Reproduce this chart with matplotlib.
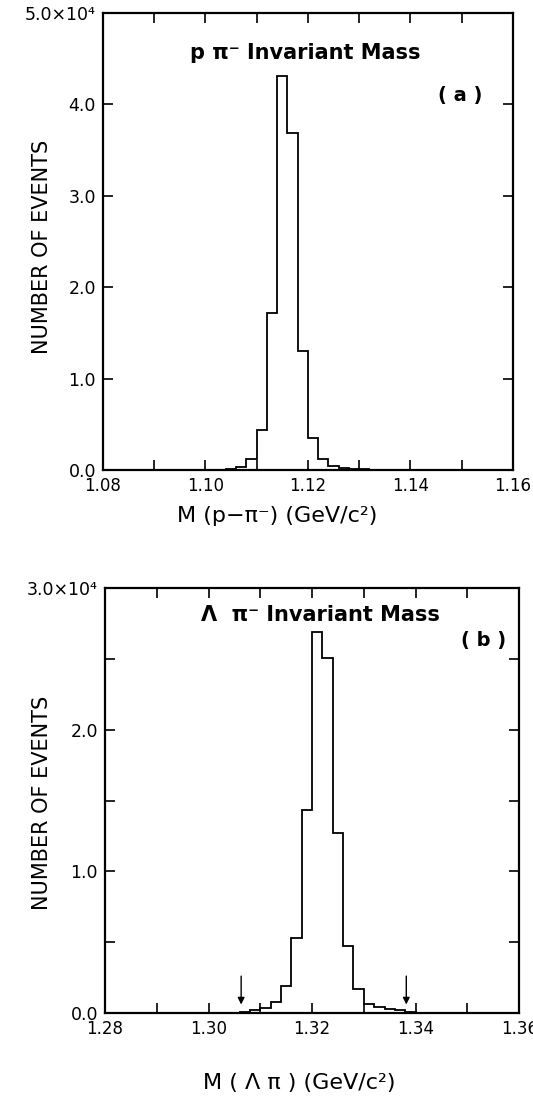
import numpy as np
import matplotlib
matplotlib.use('Agg')
import matplotlib.pyplot as plt

plt.rcParams['font.family'] = ['DejaVu Sans']

# panel (a): p pi- invariant mass, bin edges in GeV/c^2, counts in events
a_edges = [1.100, 1.102, 1.104, 1.106, 1.108, 1.110, 1.112, 1.114, 1.116,
           1.118, 1.120, 1.122, 1.124, 1.126, 1.128, 1.130, 1.132, 1.134]
a_counts = [20, 40, 100, 300, 1150, 4400, 17200, 43100, 36900,
            13000, 3450, 1220, 450, 220, 140, 70, 30]

# panel (b): Lambda pi- invariant mass
b_edges = [1.304, 1.306, 1.308, 1.310, 1.312, 1.314, 1.316, 1.318, 1.320, 1.322,
           1.324, 1.326, 1.328, 1.330, 1.332, 1.334, 1.336, 1.338, 1.340, 1.342]
b_counts = [30, 80, 200, 370, 740, 1900, 5300, 14300, 26900, 25100,
            12700, 4700, 1700, 650, 420, 300, 180, 80, 30]
b_cuts = [1.3063, 1.3382]

a_xticks = [1.08, 1.09, 1.10, 1.11, 1.12, 1.13, 1.14, 1.15, 1.16]
a_xlabels = ['1.08', '', '1.10', '', '1.12', '', '1.14', '', '1.16']
a_yticks = [0, 10000, 20000, 30000, 40000, 50000]
a_ylabels = ['0.0', '1.0', '2.0', '3.0', '4.0', '5.0×10⁴']

b_xticks = [1.28, 1.29, 1.30, 1.31, 1.32, 1.33, 1.34, 1.35, 1.36]
b_xlabels = ['1.28', '', '1.30', '', '1.32', '', '1.34', '', '1.36']
b_yticks = [0, 5000, 10000, 15000, 20000, 25000, 30000]
b_ylabels = ['0.0', '', '1.0', '', '2.0', '', '3.0×10⁴']

fig = plt.figure(figsize=(5.33, 11.09), dpi=100)
ax1 = fig.add_axes([0.1932, 0.5762, 0.769, 0.412])
ax2 = fig.add_axes([0.197, 0.0866, 0.777, 0.383])


def style(ax, xt, xl, yt, yl):
    ax.set_xticks(xt)
    ax.set_xticklabels(xl)
    ax.set_yticks(yt)
    ax.set_yticklabels(yl)
    ax.tick_params(direction='in', length=7, width=1.2, top=True, right=True,
                   pad=5, color='black')
    ax.tick_params(axis='x', labelsize=12)
    ax.tick_params(axis='y', labelsize=12.5)
    for s in ax.spines.values():
        s.set_linewidth(1.6)


ax1.stairs(a_counts, a_edges, color='black', linewidth=1.3)
ax1.set_xlim(1.08, 1.16)
ax1.set_ylim(0, 50000)
style(ax1, a_xticks, a_xlabels, a_yticks, a_ylabels)
ax1.text(0.493, 0.912, 'p π⁻ Invariant Mass', transform=ax1.transAxes,
         ha='center', va='center', fontsize=15, fontweight='bold')
ax1.text(0.871, 0.82, '( a )', transform=ax1.transAxes, ha='center',
         va='center', fontsize=14, fontweight='bold')
ax1.text(0.425, -0.10, 'M (p−π⁻) (GeV/c²)', transform=ax1.transAxes,
         ha='center', va='center', fontsize=16)
fig.text(42 / 533, 1 - 247 / 1109, 'NUMBER OF EVENTS', rotation=90,
         ha='center', va='center', fontsize=15)

ax2.stairs(b_counts, b_edges, color='black', linewidth=1.3)
ax2.set_xlim(1.28, 1.36)
ax2.set_ylim(0, 30000)
style(ax2, b_xticks, b_xlabels, b_yticks, b_ylabels)
ax2.text(0.52, 0.936, 'Λ  π⁻ Invariant Mass', transform=ax2.transAxes,
         ha='center', va='center', fontsize=15, fontweight='bold')
ax2.text(0.913, 0.878, '( b )', transform=ax2.transAxes, ha='center',
         va='center', fontsize=14, fontweight='bold')
ax2.text(0.469, -0.165, 'M ( Λ π ) (GeV/c²)', transform=ax2.transAxes,
         ha='center', va='center', fontsize=16)
fig.text(42 / 533, 1 - 803 / 1109, 'NUMBER OF EVENTS', rotation=90,
         ha='center', va='center', fontsize=15)

for xc in b_cuts:
    ax2.annotate('', xy=(xc, 400), xytext=(xc, 2800),
                 arrowprops=dict(arrowstyle='-|>', color='black', lw=1.0,
                                 mutation_scale=10))

fig.savefig('out.png', dpi=100)
